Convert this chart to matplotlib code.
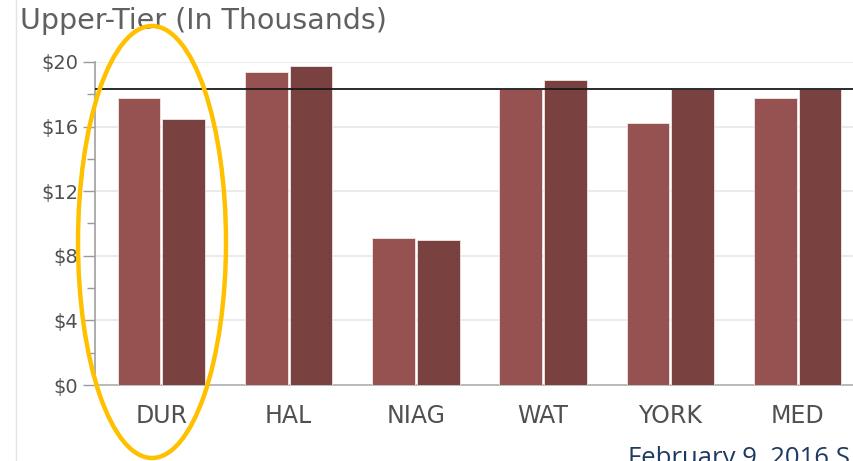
import matplotlib
matplotlib.use("Agg")
import matplotlib.pyplot as plt
from matplotlib.patches import Ellipse
from matplotlib.lines import Line2D
from matplotlib.ticker import MultipleLocator, FuncFormatter
import numpy as np

# Upper-tier municipalities and their two series (thousands of dollars)
regions = ["DUR", "HAL", "NIAG", "WAT", "YORK", "MED"]
series_a = [17.8, 19.4, 9.1, 18.3, 16.2, 17.8]
series_b = [16.5, 19.75, 9.0, 18.9, 18.3, 18.3]
reference_level = 18.3
y_ticks = [0, 4, 8, 12, 16, 20]

color_a = "#955250"
color_b = "#7A4141"
text_gray = "#505050"

plt.rcParams["font.family"] = ["DejaVu Sans"]

fig = plt.figure(figsize=(8.54, 4.61), dpi=100)
ax = fig.add_axes([95 / 854, 76 / 461, 769 / 854, 323 / 461])

x = np.arange(len(regions))
w = 0.335
ax.bar(x - w / 2 - 0.008, series_a, width=w, color=color_a,
       edgecolor="#f2e6e6", linewidth=0.6, zorder=3)
ax.bar(x + w / 2 + 0.008, series_b, width=w, color=color_b,
       edgecolor="#f2e6e6", linewidth=0.6, zorder=3)

ax.axhline(reference_level, color="#1a1a1a", linewidth=1.3, zorder=4)

ax.set_xlim(-0.52, len(regions) - 0.48)
ax.set_ylim(0, 20)
ax.set_yticks(y_ticks)
ax.yaxis.set_minor_locator(MultipleLocator(2))
ax.yaxis.set_major_formatter(FuncFormatter(lambda v, p: f"${v:.0f}"))
ax.set_xticks(x)
ax.set_xticklabels(regions)

ax.grid(axis="y", which="major", color="#e8e8e8", linewidth=1.2, zorder=0)
ax.tick_params(axis="y", which="major", length=9, width=1, color="#9a9a9a",
               labelsize=14, labelcolor=text_gray, pad=3)
ax.tick_params(axis="y", which="minor", length=6, width=1, color="#9a9a9a")
ax.tick_params(axis="x", length=0, labelsize=17, labelcolor=text_gray, pad=14)

for side in ("top", "right"):
    ax.spines[side].set_visible(False)
ax.spines["left"].set_color("#a0a0a0")
ax.spines["bottom"].set_color("#b0b0b0")
ax.spines["left"].set_linewidth(1.2)
ax.spines["bottom"].set_linewidth(1.2)

fig.text(20 / 854, 1 - 29 / 461, "Upper-Tier (In Thousands)", fontsize=20.5,
         color="#606060", ha="left", va="baseline")

# thin page border on the left
fig.add_artist(Line2D([16 / 854, 16 / 854], [0, 1], color="#e4e4e4",
                      linewidth=1, transform=fig.transFigure))

# highlight around the first region
fig.add_artist(Ellipse((1.52, 2.19), 1.48, 4.32, fill=False,
                       edgecolor="#FFC000", linewidth=3.2,
                       transform=fig.dpi_scale_trans, clip_on=False, zorder=10))

fig.text(628 / 854, 1 - 465 / 461, "February 9, 2016 S", fontsize=18.5,
         family="Open Sans", color="#1F3A5F", ha="left", va="baseline")

fig.savefig("out.png", dpi=100)
